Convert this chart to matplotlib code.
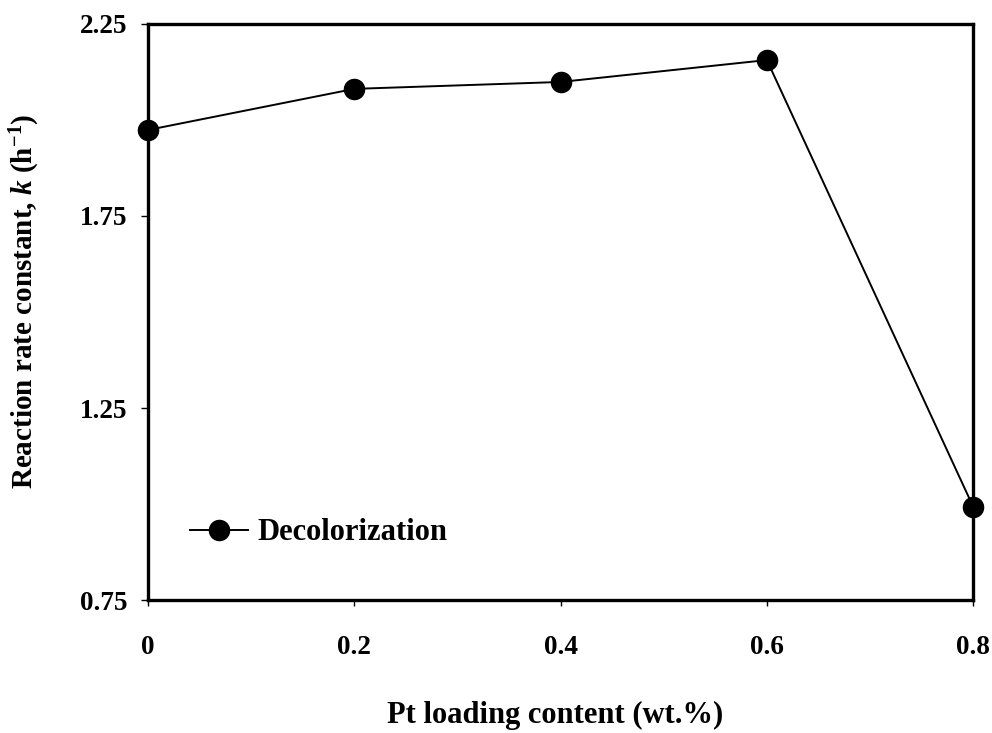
import matplotlib
matplotlib.use("Agg")
import matplotlib.pyplot as plt

# Pt loading (wt.%) and first-order rate constants (h^-1)
pt_loading = [0.0, 0.2, 0.4, 0.6, 0.8]
rate_k = [1.974, 2.081, 2.099, 2.156, 0.993]
series_name = "Decolorization"
x_ticks = [0.0, 0.2, 0.4, 0.6, 0.8]
x_tick_labels = ["0", "0.2", "0.4", "0.6", "0.8"]
y_ticks = [0.75, 1.25, 1.75, 2.25]
y_tick_labels = ["0.75", "1.25", "1.75", "2.25"]

plt.rcParams["font.family"] = ["Liberation Serif", "DejaVu Serif"]
plt.rcParams["font.weight"] = "bold"
plt.rcParams["mathtext.fontset"] = "custom"
plt.rcParams["mathtext.rm"] = "Liberation Serif:bold"
plt.rcParams["mathtext.it"] = "Liberation Serif:italic:bold"
plt.rcParams["mathtext.bf"] = "Liberation Serif:bold"

fig = plt.figure(figsize=(9.92, 7.33), dpi=100)
ax = fig.add_axes([0.1492, 0.1814, 0.8318, 0.7859])

ax.plot(pt_loading, rate_k, color="black", lw=1.4, marker="o",
        markersize=14.5, markerfacecolor="black", markeredgecolor="black",
        label=series_name, clip_on=False, zorder=3)

ax.set_xlim(0, 0.8)
ax.set_ylim(0.75, 2.25)
ax.set_xticks(x_ticks)
ax.set_xticklabels(x_tick_labels)
ax.set_yticks(y_ticks)
ax.set_yticklabels(y_tick_labels)

for side in ["left", "bottom", "top", "right"]:
    ax.spines[side].set_linewidth(2.4)

ax.tick_params(axis="y", direction="out", length=5, width=1.0, pad=10,
               labelsize=19.5)
ax.tick_params(axis="x", direction="out", length=4, width=1.0, pad=21,
               labelsize=19.5)
for lab in ax.get_xticklabels() + ax.get_yticklabels():
    lab.set_fontweight("bold")

ax.set_xlabel("Pt loading content (wt.%)", fontsize=22, fontweight="bold")
ax.xaxis.set_label_coords(0.493, -0.175)
ax.set_ylabel(r"Reaction rate constant, $\mathit{k}$ (h$^{-1}$)",
              fontsize=21, fontweight="bold")
ax.yaxis.set_label_coords(-0.128, 0.519)

leg = ax.legend(loc="lower left", bbox_to_anchor=(0.036, 0.07), frameon=False,
                fontsize=22, handlelength=1.9, handletextpad=0.3,
                borderaxespad=0.0)
for t in leg.get_texts():
    t.set_fontweight("bold")

fig.savefig("out.png", dpi=100, facecolor="white")
